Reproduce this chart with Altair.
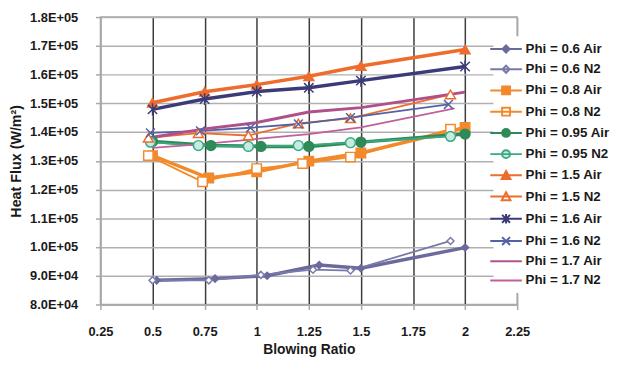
import altair as alt
import pandas as pd

series = ["Phi = 0.6 Air", "Phi = 0.6 N2", "Phi = 0.8 Air", "Phi = 0.8 N2",
          "Phi = 0.95 Air", "Phi = 0.95 N2", "Phi = 1.5 Air", "Phi = 1.5 N2",
          "Phi = 1.6 Air", "Phi = 1.6 N2", "Phi = 1.7 Air", "Phi = 1.7 N2"]

# blowing ratio (x) and heat flux (y) per series
x_06_air = [0.52, 0.80, 1.05, 1.30, 1.50, 2.00]
y_06_air = [88400, 89000, 90000, 93700, 92600, 99800]
x_06_n2 = [0.50, 0.77, 1.02, 1.27, 1.45, 1.93]
y_06_n2 = [88400, 88400, 90300, 92100, 91800, 102100]
x_08_air = [0.50, 0.77, 1.00, 1.25, 1.50, 2.00]
y_08_air = [131800, 124000, 126200, 129900, 132700, 141600]
x_08_n2 = [0.48, 0.74, 1.00, 1.22, 1.45, 1.93]
y_08_n2 = [131800, 122700, 127300, 129000, 131300, 141000]
x_095_air = [0.50, 0.78, 1.02, 1.25, 1.50, 2.00]
y_095_air = [136700, 135300, 135000, 135000, 136500, 139300]
x_095_n2 = [0.49, 0.72, 0.96, 1.20, 1.45, 1.93]
y_095_n2 = [136500, 135300, 135000, 135300, 136300, 138500]
x_15_air = [0.50, 0.75, 1.00, 1.25, 1.50, 2.00]
y_15_air = [150200, 154000, 156500, 159400, 163000, 168700]
x_15_n2 = [0.48, 0.72, 0.96, 1.20, 1.45, 1.93]
y_15_n2 = [138000, 139600, 138800, 143000, 144800, 153100]
x_16_air = [0.50, 0.75, 1.00, 1.25, 1.50, 2.00]
y_16_air = [147900, 151500, 154100, 155400, 157900, 162800]
x_16_n2 = [0.49, 0.73, 0.97, 1.20, 1.45, 1.92]
y_16_n2 = [139700, 140400, 141500, 142800, 145000, 149600]
x_17_air = [0.50, 0.75, 1.00, 1.25, 1.50, 2.00]
y_17_air = [138200, 141100, 143300, 147000, 148500, 153900]
x_17_n2 = [0.50, 0.75, 1.00, 1.25, 1.50, 1.95]
y_17_n2 = [134500, 135900, 137600, 139300, 141600, 148200]

xs = [x_06_air, x_06_n2, x_08_air, x_08_n2, x_095_air, x_095_n2,
      x_15_air, x_15_n2, x_16_air, x_16_n2, x_17_air, x_17_n2]
ys = [y_06_air, y_06_n2, y_08_air, y_08_n2, y_095_air, y_095_n2,
      y_15_air, y_15_n2, y_16_air, y_16_n2, y_17_air, y_17_n2]

colors = ["#6a6a9c", "#7a7aaa", "#f28a2c", "#f28a2c", "#2e8a56", "#3aa982",
          "#ee6c2c", "#ee6c2c", "#3b3b78", "#5462a4", "#b0508a", "#c0609a"]
fills = ["#6a6a9c", "#ffffff", "#f28a2c", "#ffffff", "#2e8a56", "#c6ece2",
         "#ee6c2c", "#ffffff", "#3b3b78", "#ffffff", "#ffffff", "#ffffff"]
line_widths = [3.5, 1.8, 3.5, 1.8, 3.5, 1.8, 3.5, 1.8, 3.5, 1.8, 3.0, 1.8]
plot_shapes = ["diamond", "diamond", "square", "square", "circle", "circle",
               "triangle-up", "triangle-up",
               "M-1,-1L1,1M-1,1L1,-1M0,-1.3L0,1.3", "M-1,-1L1,1M-1,1L1,-1",
               "circle", "circle"]
marker_sizes = [50, 50, 90, 90, 100, 100, 100, 100, 90, 80, 0, 0]
legend_paths = [
    "M-4,0H4M0,-0.9L0.9,0L0,0.9L-0.9,0Z",
    "M-4,0H4M0,-0.9L0.9,0L0,0.9L-0.9,0Z",
    "M-4,0H4M-1,-1H1V1H-1Z",
    "M-4,0H4M-1,-1H1V1H-1Z",
    "M-4,0H4M1,0A1,1,0,1,1,-1,0A1,1,0,1,1,1,0Z",
    "M-4,0H4M1,0A1,1,0,1,1,-1,0A1,1,0,1,1,1,0Z",
    "M-4,0H4M0,-1.1L1.1,0.9L-1.1,0.9Z",
    "M-4,0H4M0,-1.1L1.1,0.9L-1.1,0.9Z",
    "M-4,0H4M-1,-1L1,1M-1,1L1,-1M0,-1.2V1.2",
    "M-4,0H4M-1,-1L1,1M-1,1L1,-1",
    "M-4,0H4",
    "M-4,0H4M-0.8,0H0.8",
]

x_ticks = [0.25, 0.5, 0.75, 1.0, 1.25, 1.5, 1.75, 2.0, 2.25]
y_ticks = [80000, 90000, 100000, 110000, 120000, 130000, 140000, 150000,
           160000, 170000, 180000]

rows = []
for i, s in enumerate(series):
    for xv, yv in zip(xs[i], ys[i]):
        rows.append({"series": s, "x": xv, "y": yv, "color": colors[i],
                     "fill": fills[i], "lw": line_widths[i],
                     "shp": plot_shapes[i], "msize": marker_sizes[i]})
df = pd.DataFrame(rows)

FONT = "Liberation Sans"

x_enc = alt.X("x:Q", scale=alt.Scale(domain=[0.25, 2.25], nice=False, zero=False),
              axis=alt.Axis(values=x_ticks, tickCount=len(x_ticks) + 2, format=".2~f",
                            title="Blowing Ratio", labelOverlap=False, labelFlush=False,
                            gridColor=alt.condition("datum.value < 0.3 || datum.value > 2.2",
                                                    alt.value("#a8a8a8"), alt.value("#3c3c3c")),
                            gridWidth=1.5, labelPadding=16, titlePadding=5,
                            titleFontSize=14))
y_enc = alt.Y("y:Q", scale=alt.Scale(domain=[80000, 180000], nice=False, zero=False),
              axis=alt.Axis(values=y_ticks, tickCount=len(y_ticks) + 2,
                            title="Heat Flux (W/m²)", labelOverlap=False, labelFlush=False,
                            labelExpr="format(datum.value / pow(10, floor(log(datum.value)/LN10 + 1e-9)), '.1f') + 'E+0' + floor(log(datum.value)/LN10 + 1e-9)",
                            gridColor="#b0b0b0", gridWidth=1.5, labelPadding=18,
                            titlePadding=6))

lines = alt.Chart(df).mark_line().encode(
    x=x_enc, y=y_enc,
    detail="series:N",
    stroke=alt.Stroke("color:N", scale=None),
    strokeWidth=alt.StrokeWidth("lw:Q", scale=None),
    order="x:Q",
)

points = alt.Chart(df).mark_point(filled=False, strokeWidth=1.5, opacity=1).encode(
    x="x:Q", y="y:Q",
    shape=alt.Shape("shp:N", scale=None),
    stroke=alt.Stroke("color:N", scale=None),
    fill=alt.Fill("fill:N", scale=None),
    size=alt.Size("msize:Q", scale=None),
)

leg = alt.Legend(title=None, orient="none", legendX=398, legendY=19.5)
legend_layer = alt.Chart(df).mark_point(opacity=0).encode(
    x="x:Q", y="y:Q",
    stroke=alt.Stroke("series:N", scale=alt.Scale(domain=series, range=colors), legend=leg),
    fill=alt.Fill("series:N", scale=alt.Scale(domain=series, range=fills), legend=leg),
    shape=alt.Shape("series:N", scale=alt.Scale(domain=series, range=legend_paths), legend=leg),
)

chart = alt.layer(lines, points, legend_layer).properties(
    width=422, height=291,
    autosize=alt.AutoSizeParams(type="none"),
    padding={"left": 93.6, "top": 7, "right": 94, "bottom": 54},
).configure_view(
    stroke="#a8a8a8", strokeWidth=1.5
).configure_axis(
    labelFont=FONT, labelFontWeight="bold", labelFontSize=13, labelColor="#1a1a1a",
    titleFont=FONT, titleFontWeight="bold", titleFontSize=14.5, titleColor="#1a1a1a",
    domainColor="#a8a8a8", domainWidth=1.5, tickColor="#a8a8a8", tickWidth=1.5,
    tickSize=5,
).configure_legend(
    labelFont=FONT, labelFontWeight="bold", labelFontSize=13.5, labelColor="#1a1a1a",
    labelLimit=0, fillColor="white", padding=6, symbolSize=64, symbolStrokeWidth=2,
    symbolOpacity=1, symbolFillColor="white", symbolStrokeColor="black",
    labelOffset=13, rowPadding=4.5,
)

chart.save("out.html", embed_options={"renderer": "svg", "actions": False})
